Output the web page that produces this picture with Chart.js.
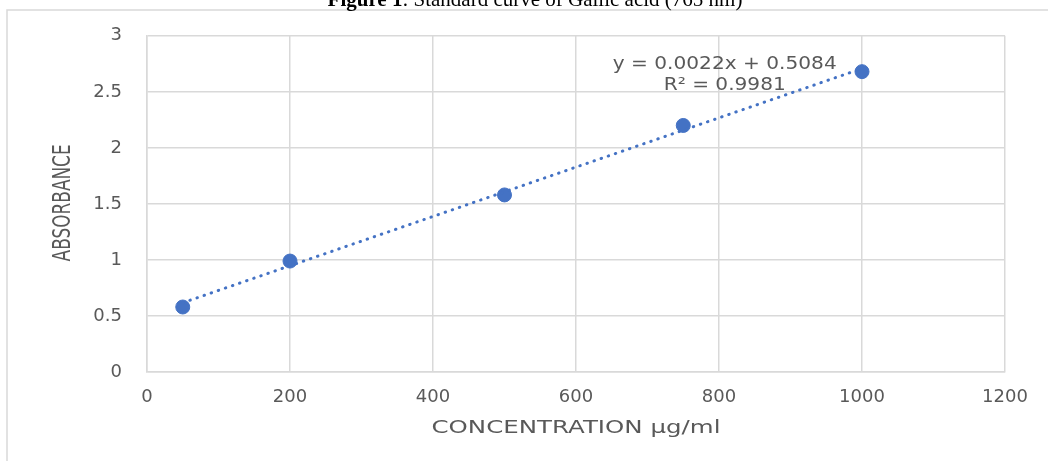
<!DOCTYPE html>
<html>
<head>
<meta charset="utf-8">
<script src="https://cdn.jsdelivr.net/npm/chart.js@4/dist/chart.umd.min.js"></script>
<style>
  html, body { margin: 0; padding: 0; background: #fff; }
  #wrap { position: relative; width: 1048px; height: 461px; }
</style>
</head>
<body>
<div id="wrap"><canvas id="curve"></canvas></div>
<script>
// Gallic acid standard curve (765 nm)
const concentration = [50, 200, 500, 750, 1000];
const absorbance = [0.58, 0.99, 1.58, 2.2, 2.68];

// linear trendline end points, y = 0.0022x + 0.5084
const trendX = [50, 1000];
const trendY = [0.618, 2.708];

const xTicks = [0, 200, 400, 600, 800, 1000, 1200];
const yTicks = [0, 0.5, 1, 1.5, 2, 2.5, 3];

const equationLines = ["y = 0.0022x + 0.5084", "R\u00b2 = 0.9981"];
const xTitle = "CONCENTRATION \u00b5g/ml";
const yTitle = "ABSORBANCE";
const titleBold = "Figure 1";
const titleRest = ": Standard curve of Gallic acid (765 nm)";

const BLUE = "#4472c4";
const GRID = "#d9d9d9";
const TEXT = "#595959";

const pts = concentration.map((x, i) => ({ x, y: absorbance[i] }));
const trend = trendX.map((x, i) => ({ x, y: trendY[i] }));

// text squeezed/stretched along its own direction to fit a given length
function fitText(c, txt, x, y, len, rot) {
  const w = c.measureText(txt).width;
  c.save();
  c.translate(x, y);
  if (rot) c.rotate(rot);
  c.scale(len / w, 1);
  c.fillText(txt, 0, 0);
  c.restore();
}

const decor = {
  id: "decor",
  beforeDraw(chart) {
    const c = chart.ctx;
    c.save();
    c.strokeStyle = GRID;
    c.lineWidth = 1.5;
    c.beginPath();
    c.moveTo(7, chart.height);
    c.lineTo(7, 10);
    c.lineTo(chart.width, 10);
    c.stroke();

    // caption, cut off by the top of the picture
    c.fillStyle = "#000";
    c.textBaseline = "alphabetic";
    const fb = "bold 21px 'Liberation Serif', serif";
    const fr = "21px 'Liberation Serif', serif";
    c.font = fb;
    const w1 = c.measureText(titleBold).width;
    c.font = fr;
    const w2 = c.measureText(titleRest).width;
    const x0 = 535 - (w1 + w2) / 2;
    c.font = fb;
    c.fillText(titleBold, x0, 6);
    c.font = fr;
    c.fillText(titleRest, x0 + w1, 6);
    c.restore();
  },
  afterDraw(chart) {
    const c = chart.ctx;
    const a = chart.chartArea;
    c.save();
    c.fillStyle = TEXT;
    c.textAlign = "center";
    c.textBaseline = "middle";
    c.font = "17px 'DejaVu Sans', sans-serif";
    fitText(c, xTitle, (a.left + a.right) / 2, 429, 289, 0);
    c.font = "24px 'DejaVu Sans', sans-serif";
    fitText(c, yTitle, 64, (a.top + a.bottom) / 2 - 1, 117, -Math.PI / 2);
    c.restore();
  },
  afterDatasetsDraw(chart) {
    const c = chart.ctx;
    const xs = chart.scales.x, ys = chart.scales.y;
    c.save();
    c.fillStyle = TEXT;
    c.font = "17px 'DejaVu Sans', sans-serif";
    c.textAlign = "center";
    c.textBaseline = "middle";
    const cx = xs.getPixelForValue(808);
    fitText(c, equationLines[0], cx, ys.getPixelForValue(2.74), 224, 0);
    fitText(c, equationLines[1], cx, ys.getPixelForValue(2.56), 122, 0);
    c.restore();
  }
};

new Chart(document.getElementById("curve"), {
  type: "scatter",
  data: {
    datasets: [
      {
        label: "Trendline",
        type: "line",
        data: trend,
        borderColor: BLUE,
        borderWidth: 3,
        borderDash: [0.5, 7],
        borderCapStyle: "round",
        pointRadius: 0,
        fill: false
      },
      {
        label: "Absorbance",
        data: pts,
        backgroundColor: BLUE,
        borderColor: BLUE,
        pointRadius: 7,
        pointHoverRadius: 7
      }
    ]
  },
  plugins: [decor],
  options: {
    responsive: true,
    maintainAspectRatio: false,
    animation: false,
    layout: { padding: { left: 0, right: 43, top: 33, bottom: 0 } },
    plugins: { legend: { display: false }, tooltip: { enabled: false } },
    scales: {
      x: {
        type: "linear",
        min: 0, max: 1200,
        afterBuildTicks: s => { s.ticks = xTicks.map(v => ({ value: v })); },
        afterFit: s => { s.height = 89; },
        grid: { color: GRID, lineWidth: 1.5, drawTicks: false },
        border: { color: GRID, width: 1.5 },
        ticks: {
          color: TEXT,
          font: { family: "'DejaVu Sans', sans-serif", size: 18 },
          padding: 15,
          maxRotation: 0,
          callback: v => String(v)
        }
      },
      y: {
        min: 0, max: 3,
        afterBuildTicks: s => { s.ticks = yTicks.map(v => ({ value: v })); },
        afterFit: s => { s.width = 147; },
        grid: { color: GRID, lineWidth: 1.5, drawTicks: false },
        border: { color: GRID, width: 1.5 },
        ticks: {
          color: TEXT,
          font: { family: "'DejaVu Sans', sans-serif", size: 18 },
          padding: 25,
          callback: v => String(v)
        }
      }
    }
  }
});
</script>
</body>
</html>
